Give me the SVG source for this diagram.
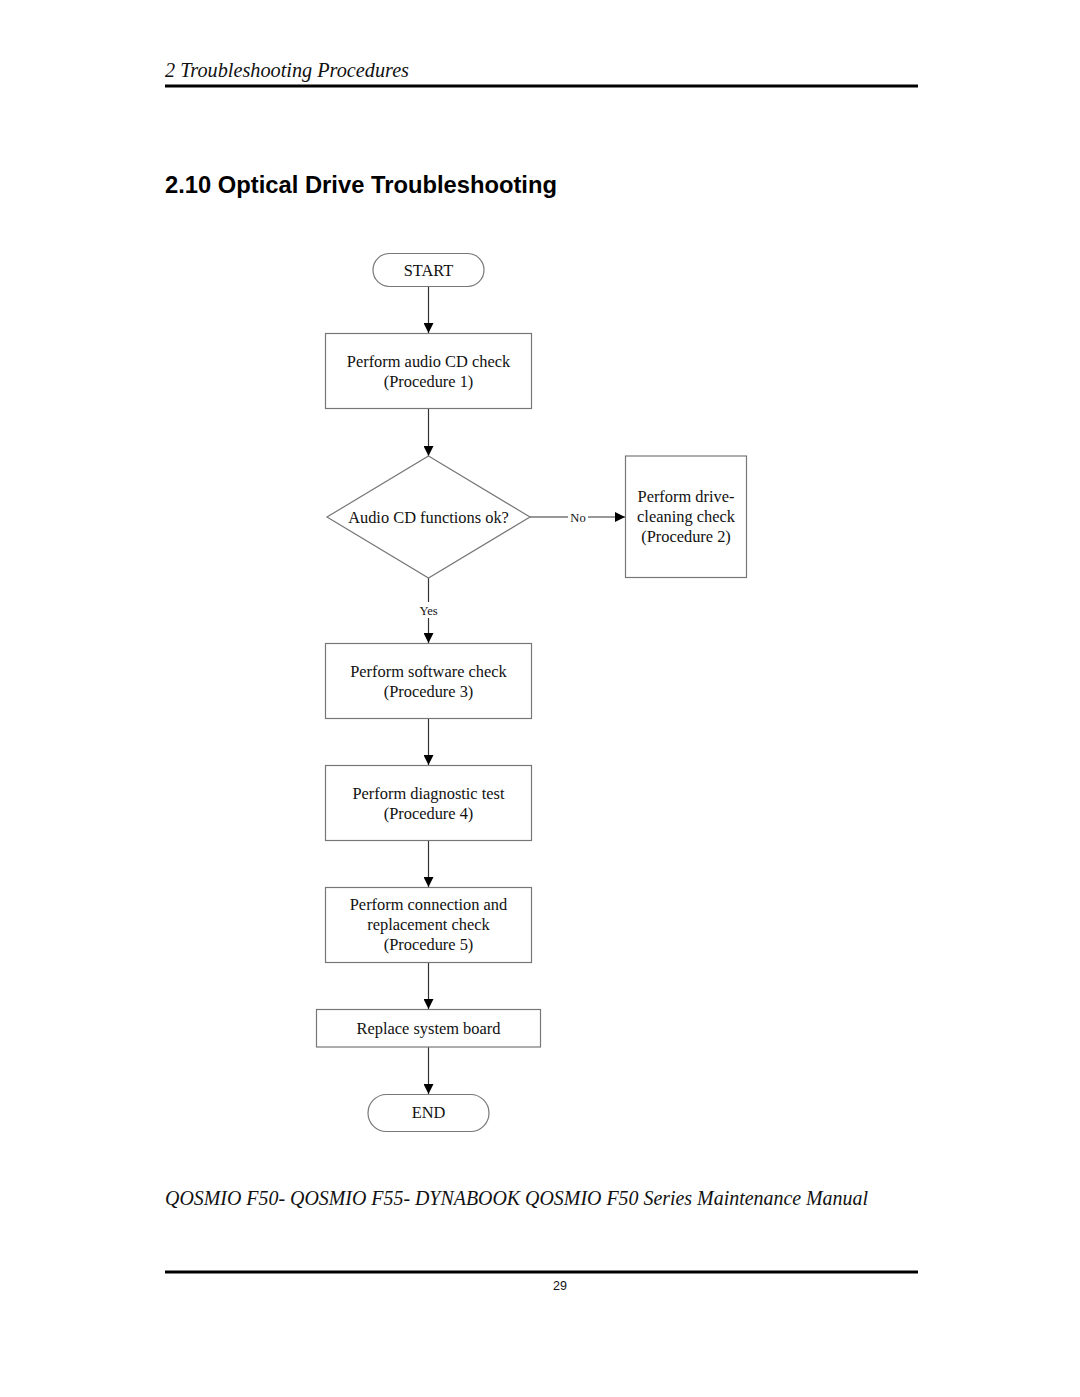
<svg xmlns="http://www.w3.org/2000/svg" width="1080" height="1397" viewBox="0 0 1080 1397">
<defs>
<marker id="arr" viewBox="0 0 10 10" refX="10" refY="5" markerWidth="10" markerHeight="10" markerUnits="userSpaceOnUse" orient="auto">
<path d="M0,0 L10,5 L0,10 z" fill="#000"/>
</marker>
</defs>
<style>
.n{fill:#fff;stroke:#777;stroke-width:1.2}
.t{font-family:"Liberation Serif",serif;font-size:16.4px;fill:#111;text-anchor:middle}
.s{font-family:"Liberation Serif",serif;font-size:12.5px;fill:#111;text-anchor:middle}
.c{fill:none;stroke:#333;stroke-width:1.2;marker-end:url(#arr)}
</style>
<rect width="1080" height="1397" fill="#fff"/>
<g id="header">
<text x="165" y="77" font-family="'Liberation Serif', serif" font-style="italic" font-size="20" fill="#111" textLength="244" lengthAdjust="spacingAndGlyphs">2 Troubleshooting Procedures</text>
<rect x="165" y="84.5" width="753" height="3" fill="#000"/>
<text x="165" y="193" font-family="'Liberation Sans', Arial, sans-serif" font-weight="bold" font-size="23" fill="#000" textLength="392" lengthAdjust="spacingAndGlyphs">2.10  Optical Drive Troubleshooting</text>
</g>
<g id="connectors">
<line class="c" x1="428.5" y1="287" x2="428.5" y2="333"/>
<line class="c" x1="428.5" y1="409" x2="428.5" y2="456"/>
<line class="c" x1="530" y1="517" x2="625" y2="517"/>
<line class="c" x1="428.5" y1="578" x2="428.5" y2="643"/>
<line class="c" x1="428.5" y1="718" x2="428.5" y2="765"/>
<line class="c" x1="428.5" y1="840" x2="428.5" y2="887"/>
<line class="c" x1="428.5" y1="962" x2="428.5" y2="1009"/>
<line class="c" x1="428.5" y1="1047" x2="428.5" y2="1094"/>
<rect x="568" y="509" width="20" height="16" fill="#fff"/>
<text class="s" x="578" y="521.5">No</text>
<rect x="416" y="602" width="25" height="16" fill="#fff"/>
<text class="s" x="428.5" y="614.5">Yes</text>
</g>
<g id="start">
<rect class="n" x="373" y="253.5" width="111" height="33" rx="16.5"/>
<text class="t" x="428.5" y="275.5">START</text>
</g>
<g id="proc1">
<rect class="n" x="325.5" y="333.5" width="206" height="75"/>
<text class="t" x="428.5" y="366.5">Perform audio CD check</text>
<text class="t" x="428.5" y="386.5">(Procedure 1)</text>
</g>
<g id="decision">
<polygon class="n" points="428.5,456 530,517 428.5,578 327,517"/>
<text class="t" x="428.5" y="522.5">Audio CD functions ok?</text>
</g>
<g id="proc2">
<rect class="n" x="625.5" y="456" width="121" height="121.5"/>
<text class="t" x="686" y="501.5">Perform drive-</text>
<text class="t" x="686" y="521.5">cleaning check</text>
<text class="t" x="686" y="541.5">(Procedure 2)</text>
</g>
<g id="proc3">
<rect class="n" x="325.5" y="643.5" width="206" height="75"/>
<text class="t" x="428.5" y="676.5">Perform software check</text>
<text class="t" x="428.5" y="696.5">(Procedure 3)</text>
</g>
<g id="proc4">
<rect class="n" x="325.5" y="765.5" width="206" height="75"/>
<text class="t" x="428.5" y="798.5">Perform diagnostic test</text>
<text class="t" x="428.5" y="818.5">(Procedure 4)</text>
</g>
<g id="proc5">
<rect class="n" x="325.5" y="887.5" width="206" height="75"/>
<text class="t" x="428.5" y="909.5">Perform connection and</text>
<text class="t" x="428.5" y="929.5">replacement check</text>
<text class="t" x="428.5" y="949.5">(Procedure 5)</text>
</g>
<g id="replace">
<rect class="n" x="316.5" y="1009.5" width="224" height="37.5"/>
<text class="t" x="428.5" y="1033.5">Replace system board</text>
</g>
<g id="end">
<rect class="n" x="368" y="1094.5" width="121" height="37" rx="18.5"/>
<text class="t" x="428.5" y="1117.5">END</text>
</g>
<g id="footer">
<text x="165" y="1205" font-family="'Liberation Serif', serif" font-style="italic" font-size="20" fill="#111" textLength="703" lengthAdjust="spacingAndGlyphs">QOSMIO F50- QOSMIO F55- DYNABOOK QOSMIO F50 Series Maintenance Manual</text>
<rect x="165" y="1270.5" width="753" height="3" fill="#000"/>
<text x="560" y="1290" font-family="'Liberation Sans', Arial, sans-serif" font-size="12.5" fill="#111" text-anchor="middle">29</text>
</g>
</svg>
